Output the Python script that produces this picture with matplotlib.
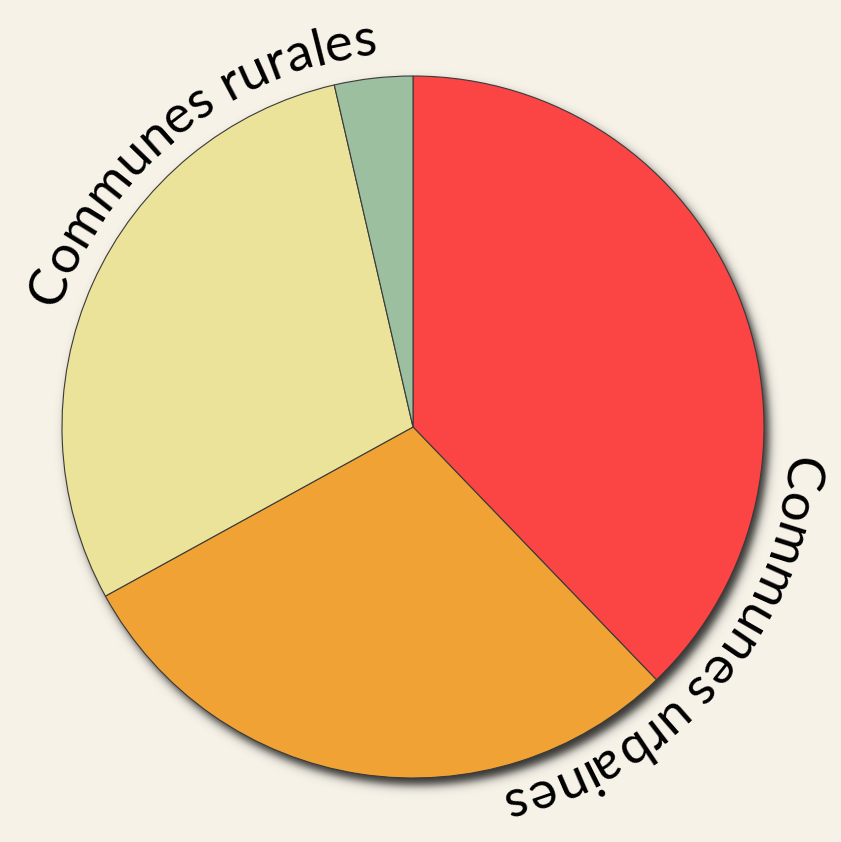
import numpy as np
import matplotlib
matplotlib.use("Agg")
import matplotlib.pyplot as plt
from matplotlib.font_manager import FontProperties, findfont, get_font

# ---- data ----
categories = ["Urbain A", "Urbain B", "Rural A", "Rural B"]
values = [37.8, 29.2, 29.4, 3.6]
colors = ["#fb4444", "#f0a334", "#ebe39a", "#9bbf9f"]
group_labels = ["Communes rurales", "Communes urbaines"]
group_label_angles = [128.5, -40.5]  # centre angle of each curved label (deg)

BG = "#f6f2e8"
W, H, DPI = 841, 842, 100
fig = plt.figure(figsize=(W / DPI, H / DPI), dpi=DPI, facecolor=BG)
ax = fig.add_axes([0, 0, 1, 1])
ax.set_facecolor(BG)

cx, cy, R = 413, 842 - 427, 351

# soft drop shadow (blurred disk offset to lower right)
yy, xx = np.mgrid[0:H, 0:W] + 0.5
sx, sy, sig = cx + 5, cy - 7, 5.5
d = np.hypot(xx - sx, yy - sy) - R
alpha = 0.8 * 0.5 * (1 - np.tanh(d / sig))
img = np.zeros((H, W, 4))
img[..., 3] = alpha
ax.imshow(img, extent=(0, W, 0, H), origin="lower", zorder=1,
          interpolation="bilinear")

ax.pie(values, colors=colors, startangle=90, counterclock=False,
       center=(cx, cy), radius=R,
       wedgeprops=dict(edgecolor="#3a3a3a", linewidth=0.8, zorder=2))
ax.set_xlim(0, W)
ax.set_ylim(0, H)
ax.set_aspect("equal")
ax.axis("off")

# curved text
fs = 38
fp = FontProperties(family="Lato", size=fs, weight="normal")
font = get_font(findfont(fp))
font.set_size(fs, 72)
px = DPI / 72.0

def adv(ch):
    g = font.load_char(ord(ch))
    return g.linearHoriAdvance / 65536.0 * px

def curved(text, center_deg, rb, track=1.0):
    advs = [adv(c) * track for c in text]
    total = sum(advs)
    start = np.radians(center_deg) + total / 2 / rb
    pos = 0.0
    for ch, a in zip(text, advs):
        mid = pos + a / 2
        pos += a
        if ch == " ":
            continue
        th = start - mid / rb
        x = cx + rb * np.cos(th)
        y = cy + rb * np.sin(th)
        ax.text(x, y, ch, fontproperties=fp, rotation=np.degrees(th) - 90,
                rotation_mode="anchor", ha="center", va="baseline",
                color="black", zorder=5)

for lab, ang in zip(group_labels, group_label_angles):
    curved(lab, ang, 374, track=1.0)

fig.savefig("out.png", dpi=DPI, facecolor=BG)
